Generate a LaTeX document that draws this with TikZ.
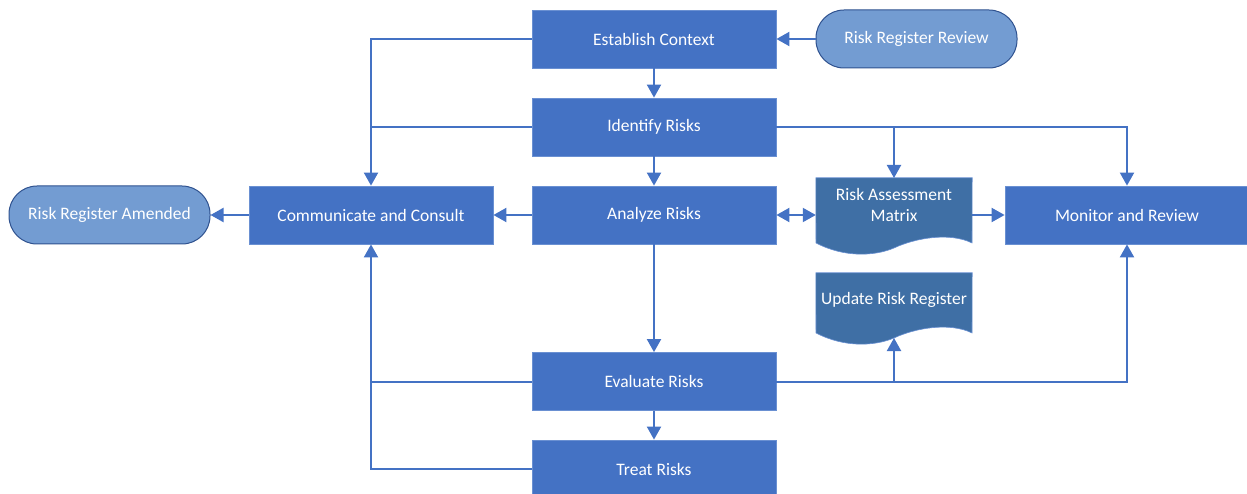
\documentclass[tikz,border=0pt]{standalone}
\usepackage{fontspec}
\setmainfont{Carlito}
\usetikzlibrary{arrows.meta}
\definecolor{boxfill}{HTML}{4472C4}
\definecolor{boxline}{HTML}{6A90D2}
\definecolor{docfill}{HTML}{3F6FA5}
\definecolor{termfill}{HTML}{739CD2}
\definecolor{termline}{HTML}{2F528F}
\definecolor{conn}{HTML}{4472C4}
\begin{document}
\begin{tikzpicture}[x=1pt,y=-1pt,
  font=\fontsize{17.5}{21}\selectfont,
  procbox/.style={rectangle,fill=boxfill,draw=boxline,line width=0.8pt,text=white,minimum width=244pt,minimum height=58pt,inner sep=0pt},
  termbox/.style={rectangle,rounded corners=28pt,fill=termfill,draw=termline,line width=1pt,text=white,minimum width=201pt,minimum height=58pt,inner sep=0pt},
  docbox/.style={rectangle,minimum width=156pt,minimum height=54pt,inner sep=0pt,text=white,align=center},
  docshape/.style={fill=docfill,draw=boxline,line width=0.6pt},
  link/.style={draw=conn,line width=2pt},
  arr/.style={link,-{Triangle[length=13pt,width=14pt]}},
  darr/.style={link,{Triangle[length=13pt,width=14pt]}-{Triangle[length=13pt,width=14pt]}}
]
\useasboundingbox (0,0) rectangle (1247,494);

% document shapes (drawn first)
\node[docbox] (mx) at (894,205) {};
\draw[docshape] (mx.north west) -- (mx.north east) -- (972,243)
  .. controls (950,232) and (915,238) .. (894,248)
  .. controls (875,256) and (845,258) .. (816,243) -- cycle;
\node[docbox] at (mx.center) {Risk Assessment\\Matrix};

\node[docbox] (ur) at (894,300) {};
\draw[docshape] (ur.north west) -- (ur.north east) -- (972,333)
  .. controls (950,322) and (915,328) .. (894,338)
  .. controls (875,346) and (845,348) .. (816,333) -- cycle;
\node[docbox] at (ur.center) {Update Risk Register};
\coordinate (urb) at (894,338);
\coordinate (mxb) at (894,178);

\node[procbox] (ec) at (654,39) {Establish Context};
\node[procbox] (ir) at (654,127) {Identify Risks};
\node[procbox] (an) at (654,215) {Analyze Risks};
\node[procbox] (ev) at (654,381.5) {Evaluate Risks};
\node[procbox] (tr) at (654,469) {Treat Risks};
\node[procbox] (cc) at (371,215) {Communicate and Consult};
\node[procbox] (mr) at (1127,215) {Monitor and Review};
\node[termbox] (rrr) at (916.5,39) {Risk Register Review};
\node[termbox] (rra) at (109.5,215) {Risk Register Amended};

% connectors
\draw[arr] (rrr) -- (ec);
\draw[arr] (ec) -- (ir);
\draw[arr] (ir) -- (an);
\draw[arr] (an) -- (ev);
\draw[arr] (ev) -- (tr);
\draw[arr] (an) -- (cc);
\draw[arr] (cc) -- (rra);
\draw[arr] (ec.west) -| (cc.north);
\draw[link] (ir.west) -- (ir.west -| cc.north);
\draw[arr] (ir.east) -| (mr.north);
\draw[arr] (ir.east -| mxb) -- (mxb);
\draw[darr] (an.east) -- (an.east -| mx.west);
\draw[arr] (mx.east |- an.east) -- (mr.west);
\draw[arr] (ev.west) -| (cc.south);
\draw[link] (tr.west) -| (ev.west -| cc.south);
\draw[arr] (ev.east) -| (mr.south);
\draw[arr] (ev.east -| urb) -- (urb);
\end{tikzpicture}
\end{document}
